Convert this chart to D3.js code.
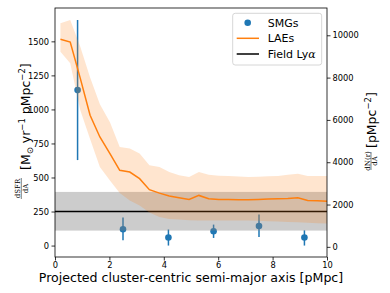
<!DOCTYPE html>
<html>
<head>
<meta charset="utf-8">
<script src="https://cdn.jsdelivr.net/npm/d3@7"></script>
<style>
  body { margin: 0; background: #fff; }
  text { font-family: "DejaVu Sans", sans-serif; fill: #000; }
</style>
</head>
<body>
<div id="main"></div>
<script>
// SMG points (left axis), with asymmetric error bars
var smgX  = [0.83, 2.5, 4.17, 5.83, 7.5, 9.17];
var smgY  = [1142, 120, 59, 105, 144, 59];
var smgLo = [628, 39, 0, 56, 63, 0];
var smgHi = [1657, 206, 118, 154, 228, 112];

// LAE surface density (right axis) with band
var laeX  = [0.2, 0.56, 0.93, 1.29, 1.65, 2.02, 2.38, 2.75, 3.11, 3.47, 3.84, 4.2, 4.56, 4.93,
             5.29, 5.65, 6.02, 6.38, 6.75, 7.11, 7.47, 7.84, 8.2, 8.56, 8.93, 9.29, 9.65, 10.0];
var laeY  = [9810, 9682, 7962, 6223, 5194, 4408, 3616, 3536, 3223, 2701, 2540, 2408, 2322, 2242,
             2431, 2275, 2242, 2242, 2227, 2227, 2242, 2265, 2275, 2289, 2322, 2194, 2180, 2161];
var laeHi = [10569, 10725, 9460, 8009, 6744, 5890, 4720, 4645, 4408, 3853, 3773, 3536, 3379, 3299,
             3536, 3412, 3355, 3346, 3322, 3299, 3308, 3332, 3346, 3403, 3460, 3346, 3346, 3346];
var laeLo = [9223, 8673, 6460, 5100, 3773, 3142, 2550, 2194, 1957, 1626, 1412, 1318, 1294, 1261,
             1246, 1246, 1246, 1246, 1246, 1240, 1230, 1215, 1199, 1180, 1160, 1140, 1120, 1104];

// field Lya level (left axis)
var fieldLevel = 250;
var fieldLo = 110;
var fieldHi = 394;

var leftTicks = [0, 250, 500, 750, 1000, 1250, 1500];
var rightTicks = [0, 2000, 4000, 6000, 8000, 10000];
var xTicks = [0, 2, 4, 6, 8, 10];

var svgWidth = 390, svgHeight = 293;
var plotL = 55, plotR = 327, plotT = 8, plotB = 257;

var x = d3.scaleLinear().domain([0, 10]).range([plotL, plotR]);
var yL = d3.scaleLinear().domain([-84, 1745]).range([plotB, plotT]);
var yR = d3.scaleLinear().domain([-480, 11290]).range([plotB, plotT]);

var svg = d3.select('#main').append('svg')
  .attr('width', svgWidth).attr('height', svgHeight);

svg.append('defs').append('clipPath').attr('id', 'clip')
  .append('rect').attr('x', plotL).attr('y', plotT)
  .attr('width', plotR - plotL).attr('height', plotB - plotT);

var plot = svg.append('g').attr('clip-path', 'url(#clip)');

// SMGs first so the bands sit on top
var smg = smgX.map(function(d, i) { return { x: d, y: smgY[i], lo: smgLo[i], hi: smgHi[i] }; });
plot.selectAll('line.err').data(smg).enter().append('line')
  .attr('x1', function(d) { return x(d.x); }).attr('x2', function(d) { return x(d.x); })
  .attr('y1', function(d) { return yL(d.lo); }).attr('y2', function(d) { return yL(d.hi); })
  .attr('stroke', '#1f77b4').attr('stroke-width', 1.5);
plot.selectAll('circle.smg').data(smg).enter().append('circle')
  .attr('cx', function(d) { return x(d.x); }).attr('cy', function(d) { return yL(d.y); })
  .attr('r', 3.3).attr('fill', '#1f77b4');

// field band + line
plot.append('rect')
  .attr('x', plotL).attr('width', plotR - plotL)
  .attr('y', yL(fieldHi)).attr('height', yL(fieldLo) - yL(fieldHi))
  .attr('fill', 'gray').attr('fill-opacity', 0.4);
plot.append('line')
  .attr('x1', plotL).attr('x2', plotR)
  .attr('y1', yL(fieldLevel)).attr('y2', yL(fieldLevel))
  .attr('stroke', '#000').attr('stroke-width', 1.5);

// LAE band + line
var lae = laeX.map(function(d, i) { return { x: d, y: laeY[i], lo: laeLo[i], hi: laeHi[i] }; });
plot.append('path').datum(lae)
  .attr('d', d3.area().x(function(d) { return x(d.x); })
    .y0(function(d) { return yR(d.lo); }).y1(function(d) { return yR(d.hi); }))
  .attr('fill', '#ff7f0e').attr('fill-opacity', 0.2);
plot.append('path').datum(lae)
  .attr('d', d3.line().x(function(d) { return x(d.x); }).y(function(d) { return yR(d.y); }))
  .attr('fill', 'none').attr('stroke', '#ff7f0e').attr('stroke-width', 1.5);

// axes
function styleAxis(g) {
  g.select('.domain').remove();
  g.selectAll('.tick line').attr('stroke', '#000').attr('stroke-width', 0.8);
  g.selectAll('.tick text').style('font-family', '"DejaVu Sans", sans-serif').style('font-size', '8.3px');
}
svg.append('g').attr('transform', 'translate(0,' + plotB + ')')
  .call(d3.axisBottom(x).tickValues(xTicks).tickFormat(d3.format('d')).tickSize(3.5).tickPadding(2))
  .call(styleAxis);
svg.append('g').attr('transform', 'translate(' + plotL + ',0)')
  .call(d3.axisLeft(yL).tickValues(leftTicks).tickFormat(d3.format('d')).tickSize(3.5).tickPadding(2.5))
  .call(styleAxis);
svg.append('g').attr('transform', 'translate(' + plotR + ',0)')
  .call(d3.axisRight(yR).tickValues(rightTicks).tickFormat(d3.format('d')).tickSize(3.5).tickPadding(2))
  .call(styleAxis);

// frame
svg.append('rect').attr('x', plotL).attr('y', plotT)
  .attr('width', plotR - plotL).attr('height', plotB - plotT)
  .attr('fill', 'none').attr('stroke', '#000').attr('stroke-width', 0.8);

// x label
svg.append('text').attr('x', (plotL + plotR) / 2).attr('y', 281.5)
  .attr('text-anchor', 'middle').style('font-size', '12.6px')
  .text('Projected cluster-centric semi-major axis [pMpc]');

// left y label
var fracFont = '"DejaVu Serif", serif';
var ll = svg.append('g').attr('transform', 'translate(0,132) rotate(-90)');
ll.append('text').attr('x', -56.5).attr('y', 19.8).attr('text-anchor', 'middle')
  .style('font-family', fracFont).style('font-size', '7px').text('dSFR');
ll.append('line').attr('x1', -67).attr('x2', -46).attr('y1', 21.3).attr('y2', 21.3)
  .attr('stroke', '#000').attr('stroke-width', 0.5);
ll.append('text').attr('x', -56.5).attr('y', 27.5).attr('text-anchor', 'middle')
  .style('font-family', fracFont).style('font-size', '7px').text('dA');
var lt = ll.append('text').attr('x', -38).attr('y', 30).style('font-size', '12.5px');
lt.append('tspan').text('[M');
lt.append('tspan').attr('dy', 3).style('font-size', '8.5px').text('\u2299');
lt.append('tspan').attr('dy', -3).text(' yr');
lt.append('tspan').attr('dy', -5).style('font-size', '8.5px').text('\u22121');
lt.append('tspan').attr('dy', 5).text(' pMpc');
lt.append('tspan').attr('dy', -5).style('font-size', '8.5px').text('\u22122');
lt.append('tspan').attr('dy', 5).text(']');

// right y label
var rl = svg.append('g').attr('transform', 'translate(0,132) rotate(-90)');
rl.append('text').attr('x', -29).attr('y', 369.5).attr('text-anchor', 'middle')
  .style('font-family', fracFont).style('font-size', '7px').text('dN(r)');
rl.append('line').attr('x1', -38).attr('x2', -20).attr('y1', 371).attr('y2', 371)
  .attr('stroke', '#000').attr('stroke-width', 0.5);
rl.append('text').attr('x', -29).attr('y', 377.2).attr('text-anchor', 'middle')
  .style('font-family', fracFont).style('font-size', '7px').text('dA');
var rt = rl.append('text').attr('x', -16).attr('y', 376).style('font-size', '12.5px');
rt.append('tspan').text('[pMpc');
rt.append('tspan').attr('dy', -5).style('font-size', '8.5px').text('\u22122');
rt.append('tspan').attr('dy', 5).text(']');

// legend
var lg = svg.append('g');
lg.append('rect').attr('x', 232.7).attr('y', 13.3).attr('width', 89).attr('height', 51.7)
  .attr('rx', 2.5).attr('fill', '#fff').attr('fill-opacity', 0.8)
  .attr('stroke', '#ccc').attr('stroke-width', 0.8);
lg.append('circle').attr('cx', 247.7).attr('cy', 22.7).attr('r', 3.3).attr('fill', '#1f77b4');
lg.append('line').attr('x1', 236.7).attr('x2', 259).attr('y1', 38.3).attr('y2', 38.3)
  .attr('stroke', '#ff7f0e').attr('stroke-width', 1.5);
lg.append('line').attr('x1', 236.7).attr('x2', 259).attr('y1', 54).attr('y2', 54)
  .attr('stroke', '#000').attr('stroke-width', 1.5);
var legLabels = ['SMGs', 'LAEs', 'Field Ly'];
var legY = [22.7, 38.3, 54];
lg.selectAll('text.leg').data(legLabels).enter().append('text')
  .attr('x', 267.7).attr('y', function(d, i) { return legY[i] + 4; })
  .style('font-size', '11px')
  .text(function(d) { return d; })
  .filter(function(d, i) { return i === 2; })
  .append('tspan').style('font-family', '"DejaVu Serif", serif').style('font-style', 'italic').text('\u03b1');
</script>
</body>
</html>
